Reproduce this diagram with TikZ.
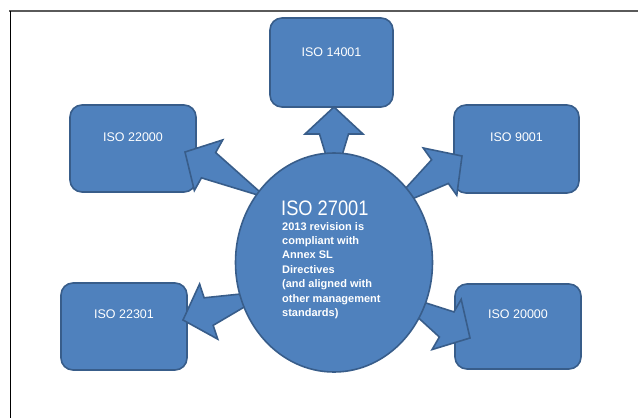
\documentclass[tikz,border=0pt]{standalone}
\usepackage{fontspec}
\setmainfont{Liberation Sans}
\newfontfamily\condfont[FakeStretch=0.87]{Liberation Sans}
\usetikzlibrary{calc,shapes.geometric}
\definecolor{isofill}{HTML}{4F81BD}
\definecolor{isoline}{HTML}{385D8A}
\definecolor{framec}{HTML}{5A5A5A}
\tikzset{
  isobox/.style={draw=isoline, fill=isofill, line width=1.6pt, rounded corners=12pt, inner sep=0pt},
  boxtext/.style={text=white, font=\fontsize{12.5}{14}\selectfont, inner sep=0pt},
  blockarrow/.style={draw=isoline, fill=isofill, line width=1.6pt, line join=miter},
  core/.style={ellipse, draw=isoline, fill=isofill, line width=1.6pt, inner sep=0pt}
}
% #1 tail coordinate, #2 tip coordinate
\newcommand\bigarrow[2]{%
  \draw[blockarrow]
    ($(#1)!14.5pt!90:(#2)$) --
    ($(#2)!27pt!(#1)!14.5pt!-90:(#2)$) --
    ($(#2)!27pt!(#1)!29pt!-90:(#2)$) --
    (#2) --
    ($(#2)!27pt!(#1)!29pt!90:(#2)$) --
    ($(#2)!27pt!(#1)!14.5pt!90:(#2)$) --
    ($(#1)!14.5pt!-90:(#2)$) -- cycle;}
\begin{document}
\begin{tikzpicture}[x=1pt,y=-1pt]
\useasboundingbox (0,0) rectangle (638,418);
\fill[white] (0,0) rectangle (638,418);
% frame
\draw[framec, line width=1.4pt] (9,11) -- (638,11);
\draw[black, line width=1pt] (10,11) -- (10,418);

% boxes
\node[isobox, minimum width=123pt, minimum height=89pt] (b14) at (331.5,62.5) {};
\node[isobox, minimum width=126pt, minimum height=87pt] (b22000) at (133,148.5) {};
\node[isobox, minimum width=125pt, minimum height=88pt] (b9001) at (516.5,149) {};
\node[isobox, minimum width=126pt, minimum height=87pt] (b22301) at (124,326.5) {};
\node[isobox, minimum width=126pt, minimum height=85pt] (b20000) at (518,326.5) {};

% arrow end points
\coordinate (s1) at (334,230);  \coordinate (t1) at (334,107);
\coordinate (s2) at (324,230);  \coordinate (t2) at (185,152);
\coordinate (s3) at (331,249);  \coordinate (t3) at (462,156);
\coordinate (s4) at (335,270);  \coordinate (t4) at (183,320);
\coordinate (s5) at (332,258);  \coordinate (t5) at (470,338);
\bigarrow{s1}{t1}
\bigarrow{s2}{t2}
\bigarrow{s3}{t3}
\bigarrow{s4}{t4}
\bigarrow{s5}{t5}

% central ellipse
\node[core, minimum width=197pt, minimum height=219pt] (c) at (334,262.5) {};

% box texts
\node[boxtext] (l14) at ([yshift=10pt]b14.center) {ISO 14001};
\node[boxtext] (l22000) at ([yshift=11pt]b22000.center) {ISO 22000};
\node[boxtext] (l9001) at ([yshift=12pt]b9001.center) {ISO 9001};
\node[boxtext] (l22301) at ([yshift=12pt]b22301.center) {ISO 22301};
\node[boxtext] (l20000) at ([yshift=12pt]b20000.center) {ISO 20000};

% ellipse texts
\node[text=white, inner sep=0pt, anchor=base west, font=\condfont\fontsize{21}{24}\selectfont] (title) at (281,215) {ISO 27001};
\node[text=white, inner sep=0pt, anchor=north west, align=left, font=\bfseries\fontsize{11}{14.4}\selectfont] (body) at (282,222)
  {2013 revision is\\compliant with\\Annex SL\\Directives\\(and aligned with\\other management\\standards)};
\end{tikzpicture}
\end{document}
